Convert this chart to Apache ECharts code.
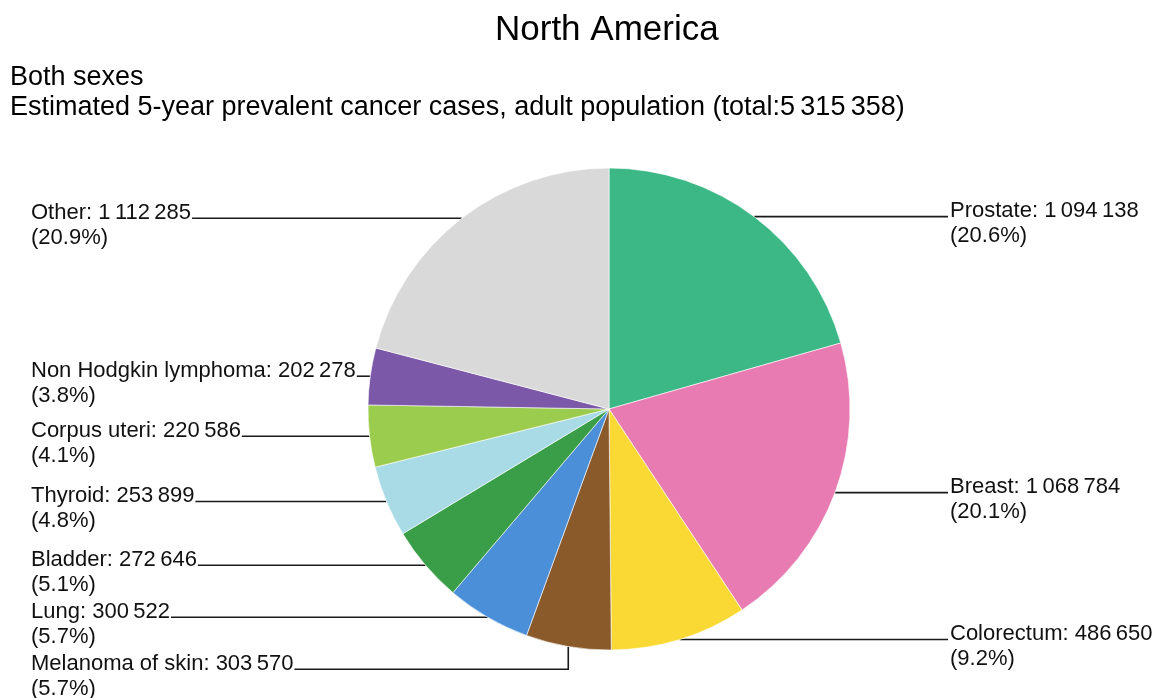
<!DOCTYPE html>
<html>
<head>
<meta charset="utf-8">
<script src="https://cdn.jsdelivr.net/npm/echarts@6/dist/echarts.min.js"></script>
<style>
html,body{margin:0;padding:0;background:#fff;}
#main{width:1163px;height:698px;}
</style>
</head>
<body>
<div id="main"></div>
<script>
// ---- data ----
const categories = ['Prostate', 'Breast', 'Colorectum', 'Melanoma of skin', 'Lung', 'Bladder', 'Thyroid', 'Corpus uteri', 'Non Hodgkin lymphoma', 'Other'];
const values = [1094138, 1068784, 486650, 303570, 300522, 272646, 253899, 220586, 202278, 1112285];
const colors = ['#3cb887', '#e87cb2', '#fad934', '#8b5a2b', '#4a8fd8', '#3a9e48', '#a8dbe6', '#9bcc4d', '#7b58a8', '#d9d9d9'];
const titleText = 'North America';
const subText1 = 'Both sexes';
const subText2Prefix = 'Estimated 5-year prevalent cancer cases, adult population (total:';

// ---- layout / style ----
const CX = 609, CY = 409, R = 241;
const LEFT_X = 31, RIGHT_X = 950;
const FONT = 'Liberation Sans, Arial, sans-serif';

const total = values.reduce((a, b) => a + b, 0);
function fmt(n) {
  return String(n).replace(/\B(?=(\d{3})+(?!\d))/g, '\u2009');
}
function midAngle(i) {
  let before = 0;
  for (let k = 0; k < i; k++) before += values[k];
  return (before + values[i] / 2) / total * Math.PI * 2;
}

const chart = echarts.init(document.getElementById('main'), null, {renderer: 'canvas'});

const option = {
  backgroundColor: '#ffffff',
  animation: false,
  title: [
    {text: titleText, left: 490, top: 8, textStyle: {fontFamily: FONT, fontSize: 35, fontWeight: 'normal', color: '#000'}},
    {text: subText1, left: 5, top: 59, textStyle: {fontFamily: FONT, fontSize: 27, fontWeight: 'normal', color: '#000'}},
    {text: subText2Prefix + fmt(total) + ')', left: 5, top: 89, textStyle: {fontFamily: FONT, fontSize: 27, fontWeight: 'normal', color: '#000'}}
  ],
  series: [{
    type: 'pie',
    center: [CX, CY],
    radius: R,
    startAngle: 90,
    clockwise: true,
    top: 0, bottom: 0, left: 0, right: 0,
    data: categories.map((c, i) => ({name: c, value: values[i], itemStyle: {color: colors[i]}})),
    itemStyle: {borderColor: '#ffffff', borderWidth: 0.6},
    label: {
      show: true,
      position: 'outside',
      alignTo: 'edge',
      edgeDistance: 20,
      fontFamily: FONT,
      fontSize: 22,
      lineHeight: 25,
      color: '#111',
      formatter: function (p) {
        return p.name + ': ' + fmt(p.value) + '\n(' + (p.value / total * 100).toFixed(1) + '%)';
      }
    },
    labelLine: {show: true, length: 0, length2: 10, smooth: false, lineStyle: {color: '#1a1a1a', width: 1.6}},
    emphasis: {disabled: true},
    labelLayout: function (p) {
      const i = p.dataIndex;
      const a = midAngle(i);
      const mx = CX + R * Math.sin(a), my = CY - R * Math.cos(a);
      const right = mx > CX;
      const rect = p.labelRect;
      const lineY = rect.y + rect.height / 2;
      const x = right ? RIGHT_X : LEFT_X;
      const attachX = right ? RIGHT_X - 2 : LEFT_X + rect.width + 1;
      const dy = lineY - CY;
      let pts;
      if (Math.abs(dy) < R - 3) {
        const px = CX + (right ? 1 : -1) * Math.sqrt(R * R - dy * dy);
        pts = [[attachX, lineY], [px, lineY]];
      } else {
        pts = [[attachX, lineY], [mx, lineY], [mx, my]];
      }
      return {x: x, y: lineY + 7, align: 'left', verticalAlign: 'middle', labelLinePoints: pts};
    }
  }]
};
chart.setOption(option);
</script>
</body>
</html>
